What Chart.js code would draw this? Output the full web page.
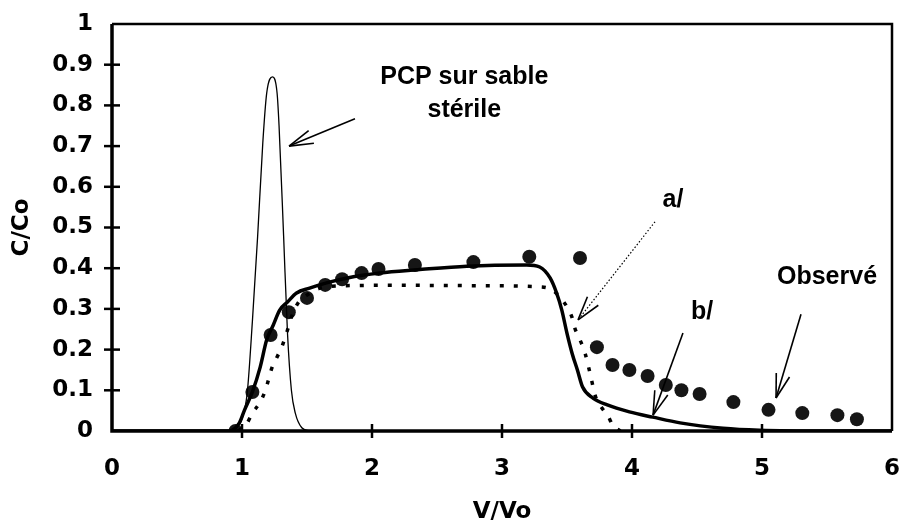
<!DOCTYPE html>
<html>
<head>
<meta charset="utf-8">
<script src="https://cdn.jsdelivr.net/npm/chart.js@4/dist/chart.umd.min.js"></script>
<style>
  html, body { margin: 0; padding: 0; background: #fff; }
  #wrap { width: 900px; height: 528px; }
</style>
</head>
<body>
<div id="wrap"><canvas id="pcpChart" width="900" height="528"></canvas></div>
<script>
// observed C/Co
const obsX = [0.95, 1.08, 1.22, 1.36, 1.50, 1.64, 1.77, 1.92, 2.05, 2.33, 2.78, 3.21, 3.60, 3.73, 3.85, 3.98, 4.12, 4.26, 4.38, 4.52, 4.78, 5.05, 5.31, 5.58, 5.73];
const obsY = [0, 0.096, 0.236, 0.292, 0.327, 0.359, 0.373, 0.388, 0.398, 0.408, 0.415, 0.428, 0.425, 0.206, 0.162, 0.15, 0.135, 0.113, 0.10, 0.091, 0.071, 0.052, 0.044, 0.039, 0.029];

// model b/ (solid)
const bX = [0, 0.90, 0.98, 1.02, 1.08, 1.14, 1.19, 1.24, 1.29, 1.35, 1.42, 1.52, 1.65, 1.81, 2.06, 2.35, 2.73, 3.19, 3.29, 3.37, 3.42, 3.46, 3.50, 3.54, 3.58, 3.62, 3.70, 3.81, 3.98, 4.16, 4.37, 4.70, 4.98, 5.5, 6.0];
const bY = [0, 0, 0.02, 0.052, 0.096, 0.157, 0.224, 0.26, 0.297, 0.317, 0.339, 0.351, 0.364, 0.376, 0.388, 0.396, 0.405, 0.408, 0.403, 0.376, 0.339, 0.297, 0.24, 0.19, 0.15, 0.108, 0.081, 0.064, 0.047, 0.034, 0.02, 0.007, 0.002, 0, 0];

// model a/ (dotted)
const aX = [0.97, 1.04, 1.08, 1.14, 1.18, 1.23, 1.27, 1.31, 1.35, 1.38, 1.43, 1.50, 1.60, 1.80, 2.2, 2.8, 3.3, 3.39, 3.45, 3.50, 3.54, 3.56, 3.60, 3.64, 3.68, 3.72, 3.77, 3.82, 3.85, 3.91];
const aY = [0, 0.02, 0.044, 0.071, 0.10, 0.155, 0.182, 0.21, 0.248, 0.28, 0.314, 0.334, 0.351, 0.357, 0.358, 0.357, 0.354, 0.346, 0.327, 0.305, 0.278, 0.253, 0.224, 0.19, 0.138, 0.084, 0.056, 0.034, 0.015, 0];

// PCP on sterile sand (thin peak)
const pcpX = [0.93, 1.0, 1.04, 1.08, 1.12, 1.16, 1.19, 1.235, 1.27, 1.285, 1.32, 1.35, 1.38, 1.41, 1.46, 1.52];
const pcpY = [0, 0.03, 0.093, 0.27, 0.477, 0.708, 0.83, 0.87, 0.83, 0.75, 0.48, 0.24, 0.10, 0.044, 0.008, 0];

const yTickLabels = ["0", "0.1", "0.2", "0.3", "0.4", "0.5", "0.6", "0.7", "0.8", "0.9", "1"];
const xTickLabels = ["0", "1", "2", "3", "4", "5", "6"];

// annotations, in data units
const notes = [
  { text: "PCP sur sable", x: 2.71, y: 0.87 },
  { text: "stérile", x: 2.71, y: 0.789 },
  { text: "a/", x: 4.315, y: 0.568 },
  { text: "b/", x: 4.54, y: 0.292 },
  { text: "Observé", x: 5.5, y: 0.378 },
];
const arrows = [
  { from: [1.869, 0.767], to: [1.362, 0.700], dotted: false },
  { from: [4.177, 0.514], to: [3.585, 0.273], dotted: true },
  { from: [4.392, 0.241], to: [4.162, 0.039], dotted: false },
  { from: [5.30, 0.287], to: [5.108, 0.081], dotted: false },
];

const pts = (xs, ys) => xs.map((x, i) => ({ x: x, y: ys[i] }));
const AXFONT = "'DejaVu Sans', Verdana, sans-serif";
const NOTEFONT = "'Liberation Sans', Arial, Helvetica, sans-serif";

const frame = {
  id: "frame",
  afterDatasetsDraw(chart) {
    const { ctx, chartArea: ca, scales } = chart;
    const sx = scales.x, sy = scales.y;
    ctx.save();
    ctx.strokeStyle = "#000";
    // top and right border
    ctx.lineWidth = 2.5;
    ctx.beginPath();
    ctx.moveTo(ca.left, ca.top);
    ctx.lineTo(ca.right, ca.top);
    ctx.lineTo(ca.right, ca.bottom);
    ctx.stroke();
    // axes
    ctx.lineWidth = 3.5;
    ctx.beginPath();
    ctx.moveTo(ca.left, ca.top);
    ctx.lineTo(ca.left, ca.bottom);
    ctx.lineTo(ca.right, ca.bottom);
    ctx.stroke();
    // crossing tick marks
    ctx.lineWidth = 2.5;
    for (let i = 1; i < xTickLabels.length - 1; i++) {
      const px = sx.getPixelForValue(i);
      ctx.beginPath();
      ctx.moveTo(px, ca.bottom - 7);
      ctx.lineTo(px, ca.bottom + 7);
      ctx.stroke();
    }
    for (let i = 1; i < yTickLabels.length - 1; i++) {
      const py = sy.getPixelForValue(i / 10);
      ctx.beginPath();
      ctx.moveTo(ca.left - 8, py);
      ctx.lineTo(ca.left + 8, py);
      ctx.stroke();
    }

    // arrows
    arrows.forEach(a => {
      const x1 = sx.getPixelForValue(a.from[0]), y1 = sy.getPixelForValue(a.from[1]);
      const x2 = sx.getPixelForValue(a.to[0]), y2 = sy.getPixelForValue(a.to[1]);
      ctx.lineWidth = a.dotted ? 1.2 : 1.6;
      ctx.setLineDash(a.dotted ? [1.5, 2] : []);
      ctx.beginPath();
      ctx.moveTo(x1, y1);
      ctx.lineTo(x2, y2);
      ctx.stroke();
      ctx.setLineDash([]);
      ctx.lineWidth = 1.6;
      const ang = Math.atan2(y1 - y2, x1 - x2);
      [-0.28, 0.28].forEach(d => {
        ctx.beginPath();
        ctx.moveTo(x2, y2);
        ctx.lineTo(x2 + 25 * Math.cos(ang + d), y2 + 25 * Math.sin(ang + d));
        ctx.stroke();
      });
    });

    // labels
    ctx.fillStyle = "#000";
    ctx.font = "bold 25px " + NOTEFONT;
    ctx.textAlign = "center";
    ctx.textBaseline = "middle";
    notes.forEach(n => {
      ctx.fillText(n.text, sx.getPixelForValue(n.x), sy.getPixelForValue(n.y));
    });
    ctx.restore();
  },
};

new Chart(document.getElementById("pcpChart"), {
  type: "scatter",
  data: {
    datasets: [
      {
        label: "PCP sur sable stérile",
        data: pts(pcpX, pcpY),
        showLine: true,
        borderColor: "#000",
        borderWidth: 1.3,
        pointRadius: 0,
        cubicInterpolationMode: "monotone",
      },
      {
        label: "a/",
        data: pts(aX, aY),
        showLine: true,
        borderColor: "#000",
        borderWidth: 3.5,
        borderDash: [4, 10],
        pointRadius: 0,
        cubicInterpolationMode: "monotone",
      },
      {
        label: "b/",
        data: pts(bX, bY),
        showLine: true,
        borderColor: "#000",
        borderWidth: 3.5,
        pointRadius: 0,
        cubicInterpolationMode: "monotone",
      },
      {
        label: "Observé",
        data: pts(obsX, obsY),
        showLine: false,
        pointRadius: 7,
        pointBackgroundColor: "#161616",
        pointBorderColor: "#161616",
        pointBorderWidth: 0,
      },
    ],
  },
  options: {
    responsive: false,
    animation: false,
    layout: { padding: { top: 24, right: 8, left: 0, bottom: 0 } },
    plugins: {
      legend: { display: false },
      tooltip: { enabled: false },
    },
    scales: {
      x: {
        type: "linear",
        min: 0,
        max: 6,
        grid: { display: false, drawTicks: false },
        border: { display: false },
        ticks: {
          stepSize: 1,
          padding: 24,
          color: "#000",
          font: { family: AXFONT, size: 23, weight: "bold" },
          callback: (v, i) => xTickLabels[i],
        },
        title: {
          display: true,
          text: "V/Vo",
          color: "#000",
          font: { family: AXFONT, size: 23, weight: "bold" },
          padding: { top: 0, bottom: 2 },
        },
        afterFit: s => {
          s.height = 97;
          s.paddingLeft = 0;
          s.paddingRight = 0;
        },
      },
      y: {
        min: 0,
        max: 1,
        grid: { display: false, drawTicks: false },
        border: { display: false },
        ticks: {
          stepSize: 0.1,
          padding: 19,
          color: "#000",
          font: { family: AXFONT, size: 23, weight: "bold" },
          callback: (v, i) => yTickLabels[i],
        },
        title: {
          display: true,
          text: "C/Co",
          color: "#000",
          font: { family: AXFONT, size: 23, weight: "bold" },
          padding: { top: 8, bottom: 0 },
        },
        afterFit: s => {
          s.width = 112;
          s.paddingTop = 0;
          s.paddingBottom = 0;
        },
      },
    },
  },
  plugins: [frame],
});
</script>
</body>
</html>
